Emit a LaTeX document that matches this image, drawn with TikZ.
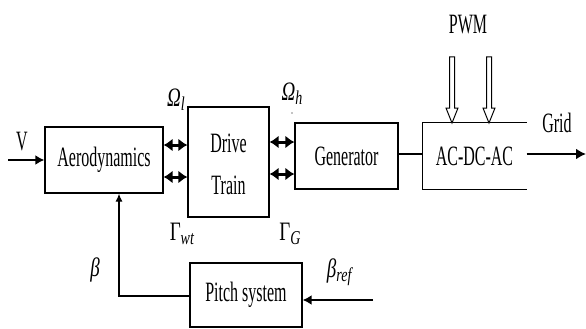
\documentclass[tikz,border=0pt]{standalone}
\usepackage{fontspec}
\setmainfont{Liberation Serif}
\usetikzlibrary{arrows.meta}
\newcommand{\st}[1]{\scalebox{1}[1.75]{#1}}
\newcommand{\sg}[1]{\scalebox{1}[1.4]{#1}}
\newcommand{\sbs}[1]{\raisebox{-0.35ex}{\fontsize{14}{14}\selectfont\textit{#1}}}
\begin{document}
\begin{tikzpicture}[x=1pt,y=-1pt,
  box/.style={draw,line width=1.3pt,inner sep=0pt,font=\fontsize{16}{16}\selectfont},
  lbl/.style={inner sep=0pt,font=\fontsize{16}{16}\selectfont},
  glbl/.style={inner sep=0pt,font=\fontsize{19}{19}\selectfont},
  dbl/.style={line width=3pt,{Latex[length=9pt,width=13pt]}-{Latex[length=9pt,width=13pt]}},
  thick arrow/.style={line width=2.6pt,-{Latex[length=9pt,width=10pt]}},
  thin arrow/.style={line width=1.2pt,-{Latex[length=8pt,width=7pt]}},
  hollow/.style={draw,line width=1pt,fill=white}]
\useasboundingbox (0,0) rectangle (586,329);
% boxes
\node[box,minimum width=118pt,minimum height=66pt] (aero) at (104,160) {\st{Aerodynamics}};
\node[box,minimum width=81pt,minimum height=110pt] (drive) at (228.5,162) {};
\node[lbl] (drive1) at (228.5,143) {\st{Drive}};
\node[lbl] (drive2) at (228.5,185) {\st{Train}};
\node[box,minimum width=103pt,minimum height=66pt] (gen) at (346.5,156) {\st{Generator}};
\node[box,draw=none,minimum width=103pt,minimum height=66pt] (ac) at (474.5,156) {\st{AC-DC-AC}};
\draw[line width=1.3pt] (ac.north east) -- (ac.north west) -- (ac.south west) -- (ac.south east);
\node[box,minimum width=112pt,minimum height=64pt] (pitch) at (246,295) {\st{Pitch system}};
% connectors
\coordinate (vin) at (8,160);
\draw[thick arrow] (vin) -- (aero.west);
\draw[dbl] (aero.east |- 0,145) -- (drive.west |- 0,145);
\draw[dbl] (aero.east |- 0,177) -- (drive.west |- 0,177);
\draw[dbl] (drive.east |- 0,142) -- (gen.west |- 0,142);
\draw[dbl] (drive.east |- 0,174) -- (gen.west |- 0,174);
\draw[line width=1.3pt] (gen.east |- 0,154) -- (ac.west |- 0,154);
\coordinate (gridout) at (586,154);
\draw[line width=2.8pt,-{Latex[length=10pt,width=11pt]}] (ac.east |- 0,154) -- (gridout);
\coordinate (fb) at (119,296);
\draw[thin arrow] (pitch.west |- fb) -- (fb) -- (fb |- aero.south);
\coordinate (bref) at (373,300);
\draw[line width=2.2pt,-{Latex[length=9pt,width=10pt]}] (bref) -- (pitch.east |- bref);
% hollow PWM arrows
\foreach \xx in {452,489}{
  \draw[hollow] (\xx-2.5,57) -- (\xx+2.5,57) -- (\xx+2.5,108) -- (\xx+6,108) -- (\xx,123) -- (\xx-6,108) -- (\xx-2.5,108) -- cycle;
}
\fill (292,113) circle (0.6pt);
% labels
\node[lbl] (lv) at (22,142) {\st{V}};
\node[glbl] (lol) at (176,100) {\sg{\textit{Ω}\sbs{l}}};
\node[glbl] (loh) at (292,94) {\sg{\textit{Ω}\sbs{h}}};
\node[glbl] (lgw) at (182,234) {\sg{Γ\sbs{wt}}};
\node[glbl] (lgg) at (290,234) {\sg{Γ\sbs{G}}};
\node[glbl] (lb) at (95,270) {\sg{\textit{β}}};
\node[glbl] (lbr) at (340,272) {\sg{\textit{β}\sbs{ref}}};
\node[lbl] (lpwm) at (468,25) {\st{PWM}};
\node[lbl] (lgrid) at (557,123) {\st{Grid}};
\end{tikzpicture}
\end{document}
